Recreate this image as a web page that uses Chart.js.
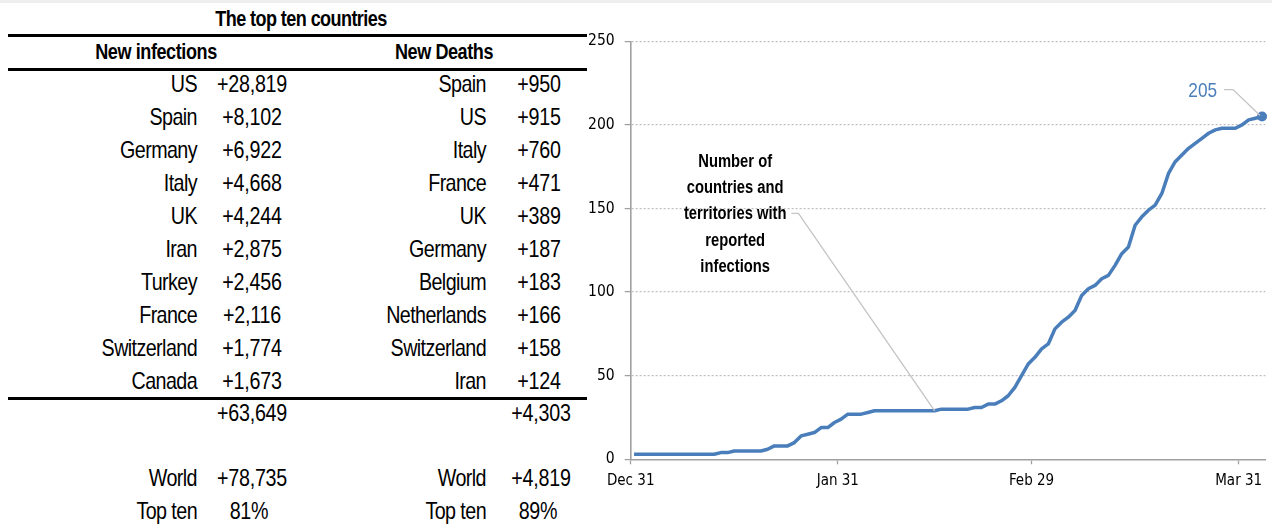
<!DOCTYPE html>
<html>
<head>
<meta charset="utf-8">
<script src="https://cdn.jsdelivr.net/npm/chart.js@4.4.1/dist/chart.umd.min.js"></script>
<style>
  html, body { margin:0; padding:0; background:#fff; }
  #page { position:relative; width:1272px; height:525px; overflow:hidden; background:#fff;
          font-family:'Liberation Sans',Arial,sans-serif; color:#000; }
  #strip { position:absolute; left:0; top:0; width:1272px; height:3px; background:#eeeeee; }
  .t { position:absolute; line-height:1; white-space:nowrap; }
  .rule { position:absolute; background:#000; }
  #chartWrap { position:absolute; left:560px; top:0; width:712px; height:525px; }
</style>
</head>
<body>
<div id="page">
  <div id="strip"></div>
  <div id="table"></div>
  <div id="chartWrap"><canvas id="c" width="712" height="525"></canvas></div>
</div>
<script>
// ---------- Data ----------
const tableTitle = 'The top ten countries';
const infHeader = 'New infections';
const deathHeader = 'New Deaths';
const infCountries = ['US','Spain','Germany','Italy','UK','Iran','Turkey','France','Switzerland','Canada'];
const infValues = [28819, 8102, 6922, 4668, 4244, 2875, 2456, 2116, 1774, 1673];
const deathCountries = ['Spain','US','Italy','France','UK','Germany','Belgium','Netherlands','Switzerland','Iran'];
const deathValues = [950, 915, 760, 471, 389, 187, 183, 166, 158, 124];
const infTotal = 63649, deathTotal = 4303;
const worldInf = 78735, worldDeaths = 4819;
const topTenInf = '81%', topTenDeaths = '89%';

// countries and territories with reported infections, daily from Dec 31
const countryCounts = [
  3,3,3,3,3,3,3,3,3,3, 3,3,3,4,4,5,5,5,5,5,
  6,8,8,8,10,14,15,16,19,19, 22,24,27,27,27,28,29,29,29,29,
  29,29,29,29,29,29,30,30,30,30, 30,31,31,33,33,35,38,43,50,57,
  61,66,69,78,82,85,89,98,102,104, 108,110,116,123,127,140,145,149,152,159,
  171,178,182,186,189,192,195,197,198,198, 198,200,203,204,205
];
const xTickDays = [0, 31, 60, 91];
const xTickLabels = ['Dec 31', 'Jan 31', 'Feb 29', 'Mar 31'];
const yTicks = [0, 50, 100, 150, 200, 250];
const annotationLines = ['Number of', 'countries and', 'territories with', 'reported', 'infections'];
const annotationDay = 45;

// ---------- Table ----------
const NARROW = 0.82;
const SANS = "'Liberation Sans',Arial,sans-serif";
const TICKFONT = "'DejaVu Sans Condensed','Liberation Sans',sans-serif";
const tbl = document.getElementById('table');
function txt(s, x, y, align, size, bold, extra) {
  const d = document.createElement('div');
  d.className = 't';
  d.textContent = s;
  d.style.fontSize = size + 'px';
  if (bold) d.style.fontWeight = 'bold';
  d.style.top = (y - size / 2) + 'px';
  if (align === 'right') {
    d.style.left = (x - 400) + 'px'; d.style.width = '400px'; d.style.textAlign = 'right';
    d.style.transformOrigin = '100% 50%';
  } else {
    d.style.left = (x - 200) + 'px'; d.style.width = '400px'; d.style.textAlign = 'center';
    d.style.transformOrigin = '50% 50%';
  }
  d.style.transform = 'scaleX(' + NARROW + ')';
  if (extra) Object.assign(d.style, extra);
  tbl.appendChild(d);
}
function rule(x, y, w, h) {
  const d = document.createElement('div');
  d.className = 'rule';
  Object.assign(d.style, { left: x + 'px', top: y + 'px', width: w + 'px', height: h + 'px' });
  tbl.appendChild(d);
}
const fmt = v => '+' + v.toLocaleString('en-US');
const NAME = { letterSpacing: '-0.7px' };
const NUM = { letterSpacing: '-0.3px' };
const ROW = 24;
txt(tableTitle, 301, 19, 'center', 22, true, { letterSpacing: '-0.7px' });
rule(8, 34, 579, 3);
txt(infHeader, 156, 52, 'center', 22, true, { letterSpacing: '-0.5px' });
txt(deathHeader, 444, 52, 'center', 22, true, { letterSpacing: '-0.5px' });
rule(8, 68, 579, 3);
const rowTop = 84, rowStep = 33;
infCountries.forEach((c, i) => {
  const y = rowTop + i * rowStep;
  txt(c, 197, y, 'right', ROW, false, NAME);
  txt(fmt(infValues[i]), 252, y, 'center', ROW, false, NUM);
  txt(deathCountries[i], 486, y, 'right', ROW, false, NAME);
  txt(fmt(deathValues[i]), 539, y, 'center', ROW, false, NUM);
});
rule(8, 397, 579, 3);
txt(fmt(infTotal), 252, 413, 'center', ROW, false, NUM);
txt(fmt(deathTotal), 541, 413, 'center', ROW, false, NUM);
txt('World', 197, 478, 'right', ROW, false, NAME);
txt(fmt(worldInf), 252, 478, 'center', ROW, false, NUM);
txt('World', 486, 478, 'right', ROW, false, NAME);
txt(fmt(worldDeaths), 541, 478, 'center', ROW, false, NUM);
txt('Top ten', 197, 511, 'right', ROW, false, NAME);
txt(topTenInf, 249, 511, 'center', ROW, false, NUM);
txt('Top ten', 486, 511, 'right', ROW, false, NAME);
txt(topTenDeaths, 538, 511, 'center', ROW, false, NUM);

// ---------- Chart ----------
const LINE = '#4a7ebb';
const AXIS = '#a0a0a0';
const GRID = '#bdbdbd';
const points = countryCounts.map((v, i) => ({ x: i + 0.5, y: v }));
const lastIdx = countryCounts.length - 1;

function narrowText(ctx, s, x, y, align) {
  ctx.save();
  ctx.translate(x, y);
  ctx.scale(NARROW, 1);
  ctx.textAlign = align;
  ctx.fillText(s, 0, 0);
  ctx.restore();
}

const annotPlugin = {
  id: 'annot',
  afterDatasetsDraw(chart) {
    const { ctx, chartArea } = chart;
    const meta = chart.getDatasetMeta(0);
    ctx.save();
    ctx.fillStyle = '#000';
    ctx.font = 'bold 18px ' + SANS;
    ctx.textBaseline = 'middle';
    const cx = chartArea.left + 104.5;
    const y0 = 162, lh = 26.2;
    annotationLines.forEach((s, k) => narrowText(ctx, s, cx, y0 + k * lh, 'center'));
    const p = meta.data[annotationDay];
    const w3 = ctx.measureText(annotationLines[2]).width * NARROW;
    const lx = cx + w3 / 2 + 5, ly = y0 + 2 * lh - 1;
    ctx.strokeStyle = '#c4c4c4';
    ctx.lineWidth = 1.3;
    ctx.beginPath();
    ctx.moveTo(lx, ly);
    ctx.lineTo(lx + 7, ly);
    ctx.lineTo(p.x, p.y);
    ctx.stroke();
    const q = meta.data[lastIdx];
    ctx.font = '21px ' + SANS;
    ctx.fillStyle = LINE;
    narrowText(ctx, String(countryCounts[lastIdx]), q.x - 45, q.y - 25, 'right');
    ctx.beginPath();
    ctx.moveTo(q.x - 38, q.y - 27);
    ctx.lineTo(q.x - 29, q.y - 27);
    ctx.lineTo(q.x - 2, q.y - 1);
    ctx.stroke();
    ctx.restore();
  }
};

new Chart(document.getElementById('c'), {
  type: 'line',
  data: {
    datasets: [{
      data: points,
      borderColor: LINE,
      backgroundColor: LINE,
      borderWidth: 3.5,
      pointRadius: countryCounts.map((v, i) => i === lastIdx ? 5 : 0),
      pointBorderWidth: 0,
      pointBackgroundColor: LINE,
      tension: 0,
      clip: false,
      borderJoinStyle: 'round'
    }]
  },
  options: {
    responsive: false,
    animation: false,
    devicePixelRatio: 1,
    layout: { padding: { left: 0, right: 6.6, top: 41.3, bottom: 25.7 } },
    plugins: { legend: { display: false }, tooltip: { enabled: false } },
    scales: {
      x: {
        type: 'linear',
        min: 0,
        max: countryCounts.length,
        afterBuildTicks: s => { s.ticks = xTickDays.map(v => ({ value: v })); },
        afterFit: s => { s.height = 40; },
        ticks: {
          autoSkip: false,
          maxRotation: 0,
          padding: 8,
          color: '#000',
          font: { family: TICKFONT, size: 15 },
          callback: v => xTickLabels[xTickDays.indexOf(v)]
        },
        grid: { drawOnChartArea: false, drawTicks: true, tickLength: 5, tickColor: AXIS, tickWidth: 1.3 },
        border: { display: true, color: AXIS, width: 1.6 }
      },
      y: {
        min: 0,
        max: 250,
        afterBuildTicks: s => { s.ticks = yTicks.map(v => ({ value: v })); },
        afterFit: s => { s.width = 70.7; },
        ticks: {
          padding: 10,
          color: '#000',
          font: { family: TICKFONT, size: 15.5 }
        },
        grid: {
          color: c => (c.tick && c.tick.value === 0) ? 'rgba(0,0,0,0)' : GRID,
          lineWidth: 1.2,
          drawTicks: true,
          tickLength: 6,
          tickColor: AXIS,
          tickWidth: 1.3,
          tickBorderDash: []
        },
        border: { display: true, color: AXIS, width: 1.6, dash: [2, 2] }
      }
    }
  },
  plugins: [annotPlugin]
});
</script>
</body>
</html>
